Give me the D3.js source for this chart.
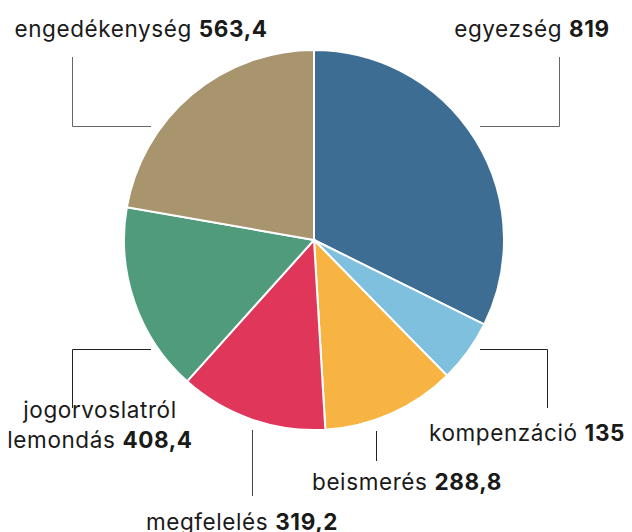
<!DOCTYPE html>
<html>
<head>
<meta charset="utf-8">
<script src="https://cdn.jsdelivr.net/npm/d3@7"></script>
<style>
  body { margin: 0; background: #fff; }
  text { font-family: Inter, Roboto, sans-serif; fill: #1a1a1a; }
</style>
</head>
<body>
<div id="chart"></div>
<script>
const categories = ['egyezség', 'kompenzáció', 'beismerés', 'megfelelés', 'jogorvoslatról lemondás', 'engedékenység']
const values = [819, 135, 288.8, 319.2, 408.4, 563.4]
const valueLabels = ['819', '135', '288,8', '319,2', '408,4', '563,4']
const colors = ['#3d6d93', '#80c0df', '#f8b443', '#df365a', '#509b7c', '#a8946d']

const width = 632
const height = 532
const cx = 314
const cy = 240
const radius = 190

const svg = d3.select('#chart')
    .append('svg')
    .attr('width', width)
    .attr('height', height)

const ctr = svg.append('g')
    .attr('transform', `translate(${cx},${cy})`)

const data = categories.map((c, i) => ({ name: c, value: values[i], label: valueLabels[i], color: colors[i] }))

const pie = d3.pie()
    .value((d) => d.value)
    .sort(null)

const arc = d3.arc()
    .innerRadius(0)
    .outerRadius(radius)

ctr.selectAll('path')
    .data(pie(data))
    .join('path')
    .attr('d', arc)
    .attr('fill', (d) => d.data.color)
    .attr('stroke', '#fff')
    .attr('stroke-width', 2)

// leader lines + labels, relative to the pie centre
const layout = [
    { line: [[166, -113.5], [245.5, -113.5], [245.5, -183]], text: [218, -203], lines: 1, stroke: '#666' },
    { line: [[166, 109.5], [233.5, 109.5], [233.5, 168]], text: [213, 201], lines: 1, stroke: '#222' },
    { line: [[62.5, 191], [62.5, 221]], text: [93, 250], lines: 1, stroke: '#222' },
    { line: [[-61.5, 190], [-61.5, 256]], text: [-72, 290], lines: 1, stroke: '#444' },
    { line: [[-163, 109.5], [-241.5, 109.5], [-241.5, 168]], text: [-214, 208], lines: 2, stroke: '#222' },
    { line: [[-163, -113.5], [-241.5, -113.5], [-241.5, -183]], text: [-173, -203], lines: 1, stroke: '#666' }
]

const line = d3.line()

const labels = ctr.append('g')

labels.selectAll('path')
    .data(layout)
    .join('path')
    .attr('d', (d) => line(d.line))
    .attr('fill', 'none')
    .attr('stroke', (d) => d.stroke)
    .attr('stroke-width', 1)

labels.selectAll('text')
    .data(data)
    .join('text')
    .attr('text-anchor', 'middle')
    .attr('font-size', 22.5)
    .attr('letter-spacing', 0.6)
    .each(function (d, i) {
        const t = d3.select(this)
        const pos = layout[i].text
        if (layout[i].lines === 2) {
            const words = d.name.split(' ')
            t.append('tspan').attr('x', pos[0]).attr('y', pos[1] - 30).text(words[0])
            const t2 = t.append('tspan').attr('x', pos[0]).attr('y', pos[1])
            t2.append('tspan').text(words.slice(1).join(' ') + ' ')
            t2.append('tspan').attr('font-weight', 700).text(d.label)
        } else {
            t.attr('x', pos[0]).attr('y', pos[1])
            t.append('tspan').text(d.name + ' ')
            t.append('tspan').attr('font-weight', 700).text(d.label)
        }
    })
</script>
</body>
</html>
